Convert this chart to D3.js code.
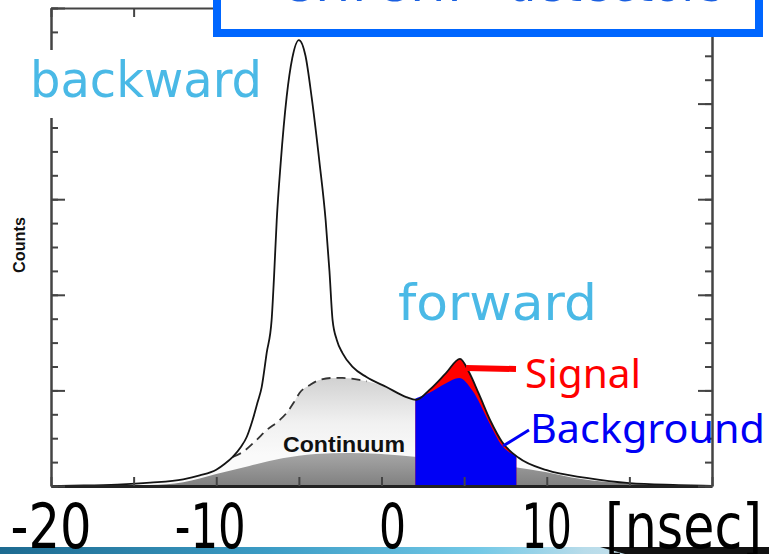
<!DOCTYPE html>
<html>
<head>
<meta charset="utf-8">
<script src="https://cdn.jsdelivr.net/npm/d3@7"></script>
<style>
    body { margin: 0; background: #fff; }
    svg { display: block; }
</style>
</head>
<body>
<div id="chart"></div>
<script>
    // time in ns, counts in arbitrary units (frame height = 100)
    const xTicks = [-20, -15, -10, -5, 0, 5, 10, 15, 20];
    const xLabels = [-20, -10, 0, 10];
    const yMinorTicks = [0, 5, 10, 15, 20, 25, 30, 35, 40, 45, 50, 55, 60, 65, 70, 75, 80, 85, 90, 95, 100];
    const yMajorTicks = [0, 20, 40, 60, 80, 100];

    // measured total spectrum (solid line)
    const totalCurve = [
        [-20, 0], [-18, 0.1], [-16, 0.3], [-14, 0.7], [-12, 1.4], [-11, 2.2], [-10, 3.4],
        [-9.5, 4.6], [-9, 6.1], [-8.5, 8.2], [-8.15, 10.3], [-7.8, 13.8], [-7.5, 17.5],
        [-7.25, 20.7], [-6.95, 27.8], [-6.65, 34.7], [-6.5, 44], [-6.34, 55.6], [-6.1, 67.6],
        [-5.74, 81.4], [-5.4, 89.5], [-5.0, 93.3], [-4.6, 90], [-4.23, 81.4], [-3.75, 67.6],
        [-3.38, 55.6], [-3.15, 45], [-2.96, 34.7], [-2.7, 30.5], [-2.36, 27.8], [-1.75, 24.9],
        [-0.91, 22.8], [0.3, 20.7], [1.5, 18.6], [2.1, 18.0], [2.9, 20.1], [3.9, 23.6],
        [4.75, 26.6], [5.3, 23.8], [5.9, 19.2], [6.6, 13.6], [7.3, 9.2], [8.3, 5.9],
        [10, 3.3], [12.4, 1.7], [15, 0.6], [18, 0.2], [20, 0]
    ];

    // continuum (dashed part under the backward peak)
    const continuumCurve = [
        [-20, 0], [-16, 0.3], [-14, 0.7], [-12, 1.4], [-10, 3.4], [-9, 6.1], [-8.4, 7.1],
        [-7.6, 9.5], [-6.95, 11.7], [-6.16, 13.8], [-5.74, 15.3], [-5.3, 17.5], [-4.95, 19.5],
        [-4.3, 21.2], [-3.75, 22.2], [-3.0, 22.6], [-2.36, 22.6], [-1.33, 22.2], [-0.9, 21.9],
        [0.3, 20.7], [1.5, 18.6], [2.1, 18.0], [4, 17], [6, 13], [7.3, 9.0], [8.3, 5.9],
        [10, 3.3], [12.4, 1.7], [15, 0.6], [18, 0.2], [20, 0]
    ];

    // darker lower band of the continuum
    const darkBand = [
        [-20, 0], [-14, 0.2], [-12, 0.8], [-10, 2.5], [-8, 4.2], [-6, 5.8], [-4, 6.7],
        [-2, 6.9], [0, 6.7], [2, 6.1], [4, 5.5], [6, 4.8], [8, 4.0], [10, 2.9], [12, 1.5],
        [15, 0.5], [20, 0]
    ];

    // background under the forward peak (blue)
    const backgroundCurve = [
        [2.05, 18.3], [2.9, 19.5], [3.9, 21.5], [4.7, 22.6], [5.5, 20.0], [6.5, 13.4],
        [7.3, 8.4], [8.16, 6.4]
    ];
    const signalWindow = [2.05, 8.16];

    const width = 769, height = 554;

    const x = d3.scaleLinear().domain([-20, 20]).range([51, 712]);
    const y = d3.scaleLinear().domain([0, 100]).range([486, 8]);

    const svg = d3.select("#chart")
        .append("svg")
        .attr("width", width)
        .attr("height", height);

    const defs = svg.append("defs");

    const contGrad = defs.append("linearGradient")
        .attr("id", "contGrad")
        .attr("gradientUnits", "userSpaceOnUse")
        .attr("x1", 0).attr("x2", 0).attr("y1", 375).attr("y2", 455);
    contGrad.append("stop").attr("offset", 0).attr("stop-color", "#cfcfcf");
    contGrad.append("stop").attr("offset", 0.6).attr("stop-color", "#f1f1f1");
    contGrad.append("stop").attr("offset", 1).attr("stop-color", "#fafafa");

    const darkGrad = defs.append("linearGradient")
        .attr("id", "darkGrad")
        .attr("gradientUnits", "userSpaceOnUse")
        .attr("x1", 0).attr("x2", 0).attr("y1", 450).attr("y2", 486);
    darkGrad.append("stop").attr("offset", 0).attr("stop-color", "#aaaaaa");
    darkGrad.append("stop").attr("offset", 1).attr("stop-color", "#808080");

    const stripGrad = defs.append("linearGradient")
        .attr("id", "stripGrad")
        .attr("x1", 0).attr("x2", 1).attr("y1", 0).attr("y2", 0);
    stripGrad.append("stop").attr("offset", 0).attr("stop-color", "#1d6a90");
    stripGrad.append("stop").attr("offset", 0.35).attr("stop-color", "#3c9cc5");
    stripGrad.append("stop").attr("offset", 0.62).attr("stop-color", "#72c8e6");
    stripGrad.append("stop").attr("offset", 0.76).attr("stop-color", "#b8dcea");
    stripGrad.append("stop").attr("offset", 1).attr("stop-color", "#e6eef2");

    defs.append("clipPath").attr("id", "plotClip")
        .append("rect")
        .attr("x", x(-20)).attr("y", y(100))
        .attr("width", x(20) - x(-20)).attr("height", y(0) - y(100));

    defs.append("clipPath").attr("id", "sigClip")
        .append("rect")
        .attr("x", x(signalWindow[0])).attr("y", y(100))
        .attr("width", x(signalWindow[1]) - x(signalWindow[0])).attr("height", y(0) - y(100));

    const area = d3.area()
        .x(d => x(d[0]))
        .y0(y(0))
        .y1(d => y(d[1]))
        .curve(d3.curveMonotoneX);

    const line = d3.line()
        .x(d => x(d[0]))
        .y(d => y(d[1]))
        .curve(d3.curveMonotoneX);

    const plot = svg.append("g").attr("clip-path", "url(#plotClip)");

    // continuum shading
    plot.append("path")
        .datum(continuumCurve)
        .attr("d", area)
        .attr("fill", "url(#contGrad)");

    plot.append("path")
        .datum(darkBand)
        .attr("d", area)
        .attr("fill", "url(#darkGrad)");

    // signal = total above background inside the window
    plot.append("g").attr("clip-path", "url(#sigClip)")
        .append("path")
        .datum(totalCurve)
        .attr("d", area)
        .attr("fill", "#ff0000");

    plot.append("path")
        .datum(backgroundCurve)
        .attr("d", area)
        .attr("fill", "#0000f5");

    // dashed continuum under the backward peak
    plot.append("path")
        .datum(continuumCurve.filter(d => d[0] >= -9 && d[0] <= -0.9))
        .attr("d", line)
        .attr("fill", "none")
        .attr("stroke", "#333")
        .attr("stroke-width", 1.8)
        .attr("stroke-dasharray", "9,6");

    plot.append("path")
        .datum(totalCurve)
        .attr("d", line)
        .attr("fill", "none")
        .attr("stroke", "#141414")
        .attr("stroke-width", 1.8);

    // frame axes, ticks pointing inward
    function styleAxis(g, w) {
        g.selectAll(".domain").attr("stroke", "#444").attr("stroke-width", w);
        g.selectAll(".tick line").attr("stroke", "#444").attr("stroke-width", 2);
    }

    svg.append("g")
        .attr("transform", `translate(0,${y(0)})`)
        .call(d3.axisBottom(x).tickValues(xTicks).tickSize(-9).tickSizeOuter(0).tickFormat(""))
        .call(g => styleAxis(g, 3))
        .call(g => g.select(".domain").attr("stroke", "#222"));

    svg.append("g")
        .attr("transform", `translate(0,${y(100)})`)
        .call(d3.axisTop(x).tickValues(xTicks).tickSize(-9).tickSizeOuter(0).tickFormat(""))
        .call(g => styleAxis(g, 2));

    svg.append("g")
        .attr("transform", `translate(${x(-20)},0)`)
        .call(d3.axisLeft(y).tickValues(yMinorTicks).tickSize(-7).tickSizeOuter(0).tickFormat(""))
        .call(g => styleAxis(g, 2));
    svg.append("g")
        .attr("transform", `translate(${x(-20)},0)`)
        .call(d3.axisLeft(y).tickValues(yMajorTicks).tickSize(-14).tickSizeOuter(0).tickFormat(""))
        .call(g => styleAxis(g, 2));

    svg.append("g")
        .attr("transform", `translate(${x(20)},0)`)
        .call(d3.axisRight(y).tickValues(yMinorTicks).tickSize(-7).tickSizeOuter(0).tickFormat(""))
        .call(g => styleAxis(g, 2));
    svg.append("g")
        .attr("transform", `translate(${x(20)},0)`)
        .call(d3.axisRight(y).tickValues(yMajorTicks).tickSize(-14).tickSizeOuter(0).tickFormat(""))
        .call(g => styleAxis(g, 2));

    svg.append("text")
        .text("Counts")
        .attr("transform", "translate(25,245) rotate(-90)")
        .attr("text-anchor", "middle")
        .attr("textLength", 56)
        .attr("lengthAdjust", "spacingAndGlyphs")
        .attr("font-family", "Liberation Sans, Arial, sans-serif")
        .attr("font-weight", "bold")
        .attr("font-size", 17)
        .attr("fill", "#111");

    svg.append("text")
        .text("Continuum")
        .attr("x", 283).attr("y", 452)
        .attr("textLength", 122)
        .attr("lengthAdjust", "spacingAndGlyphs")
        .attr("font-family", "Liberation Sans, Arial, sans-serif")
        .attr("font-weight", "bold")
        .attr("font-size", 22)
        .attr("fill", "#111");

    // slide overlay: title box cut by the top edge
    svg.append("rect")
        .attr("x", 217).attr("y", -12)
        .attr("width", 542).attr("height", 45)
        .attr("fill", "#fff")
        .attr("stroke", "#0066ff")
        .attr("stroke-width", 8);
    svg.append("text")
        .text("S.T. S.T. - detectors")
        .attr("x", 286).attr("y", 1)
        .attr("textLength", 438)
        .attr("lengthAdjust", "spacingAndGlyphs")
        .attr("font-family", "Comic Sans MS, DejaVu Sans, sans-serif")
        .attr("font-size", 52)
        .attr("fill", "#1a5fe0");

    // white patch behind the "backward" label
    svg.append("rect")
        .attr("x", 18).attr("y", 50)
        .attr("width", 252).attr("height", 68)
        .attr("fill", "#fff");

    const comic = "Comic Sans MS, DejaVu Sans, sans-serif";

    svg.append("text")
        .text("backward")
        .attr("x", 30).attr("y", 97)
        .attr("textLength", 232)
        .attr("lengthAdjust", "spacingAndGlyphs")
        .attr("font-family", comic)
        .attr("font-size", 50)
        .attr("fill", "#4ab9e6");

    svg.append("text")
        .text("forward")
        .attr("x", 398).attr("y", 320)
        .attr("textLength", 199)
        .attr("lengthAdjust", "spacingAndGlyphs")
        .attr("font-family", comic)
        .attr("font-size", 50)
        .attr("fill", "#4ab9e6");

    // pointers and labels for signal / background
    svg.append("line")
        .attr("x1", 466).attr("y1", 368).attr("x2", 516).attr("y2", 369)
        .attr("stroke", "#ff0000").attr("stroke-width", 6);
    svg.append("line")
        .attr("x1", 503).attr("y1", 446).attr("x2", 529).attr("y2", 430)
        .attr("stroke", "#0000f5").attr("stroke-width", 3);

    svg.append("text")
        .text("Signal")
        .attr("x", 525).attr("y", 388)
        .attr("textLength", 116)
        .attr("lengthAdjust", "spacingAndGlyphs")
        .attr("font-family", "Noto Sans, sans-serif")
        .attr("font-size", 40)
        .attr("fill", "#ff0000");

    svg.append("text")
        .text("Background")
        .attr("x", 530).attr("y", 443)
        .attr("textLength", 235)
        .attr("lengthAdjust", "spacingAndGlyphs")
        .attr("font-family", "Noto Sans, sans-serif")
        .attr("font-size", 40)
        .attr("fill", "#0000f5");

    // bottom decoration strip of the slide
    svg.append("rect")
        .attr("x", 0).attr("y", 547)
        .attr("width", width).attr("height", 7)
        .attr("fill", "url(#stripGrad)");
    svg.append("path")
        .attr("d", "M600,547 L769,547 L769,554 L625,554 Z")
        .attr("fill", "#111");

    // big tick labels
    const labelWidths = [81, 71, 27, 50];
    svg.selectAll(".xlab")
        .data(xLabels)
        .join("text")
        .attr("class", "xlab")
        .text(d => d)
        .attr("x", d => x(d))
        .attr("dx", d => d === 0 ? 11 : (d === -10 ? -6 : 0))
        .attr("y", 548)
        .attr("text-anchor", "middle")
        .attr("textLength", (d, i) => labelWidths[i])
        .attr("lengthAdjust", "spacingAndGlyphs")
        .attr("font-family", comic)
        .attr("font-size", 62)
        .attr("fill", "#000");

    svg.append("text")
        .text("[nsec]")
        .attr("x", 605).attr("y", 548)
        .attr("textLength", 157)
        .attr("lengthAdjust", "spacingAndGlyphs")
        .attr("font-family", comic)
        .attr("font-size", 62)
        .attr("fill", "#000");
</script>
</body>
</html>
